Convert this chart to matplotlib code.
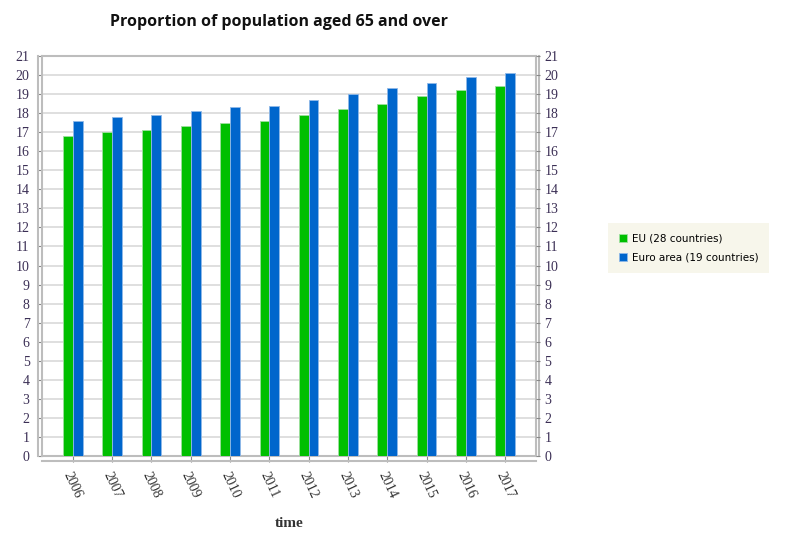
import numpy as np
import matplotlib.pyplot as plt

years = ['2006', '2007', '2008', '2009', '2010', '2011',
         '2012', '2013', '2014', '2015', '2016', '2017']
eu28 = [16.8, 17.0, 17.1, 17.3, 17.5, 17.6, 17.9, 18.2, 18.5, 18.9, 19.2, 19.4]
ea19 = [17.6, 17.8, 17.9, 18.1, 18.3, 18.4, 18.7, 19.0, 19.3, 19.6, 19.9, 20.1]
yticks = list(range(0, 22))

tick_color = '#3b2f55'
frame_color = '#bdbdbd'

fig = plt.figure(figsize=(7.96, 5.37), dpi=100)
ax = fig.add_axes([42 / 796, 1 - 456 / 537, 494 / 796, 400 / 537])

x = np.arange(len(years))
w = 0.25
ax.bar(x - w / 2, eu28, width=w, color='#00bf00', edgecolor='#9fe09f', linewidth=0.6,
       label='EU (28 countries)', zorder=3)
ax.bar(x + w / 2, ea19, width=w, color='#0066cc', edgecolor='#8fb8e8', linewidth=0.6,
       label='Euro area (19 countries)', zorder=3)

ax.set_xlim(-0.78, len(years) - 1 + 0.78)
ax.set_ylim(0, 21)
ax.set_yticks(yticks)
ax.grid(axis='y', color='#d9d9d9', linewidth=1.2, zorder=0)

# grey frame around the plot area
for s in ax.spines.values():
    s.set_color(frame_color)
    s.set_linewidth(1.5)

# offset axis lines, left/right/bottom
ax.plot([0, 1], [-4.5 / 400, -4.5 / 400], transform=ax.transAxes,
        color=frame_color, lw=1.5, clip_on=False)
ax.plot([-4 / 494, -4 / 494], [0, 1], transform=ax.transAxes,
        color=frame_color, lw=1.5, clip_on=False)
ax.plot([1 + 3 / 494, 1 + 3 / 494], [0, 1], transform=ax.transAxes,
        color=frame_color, lw=1.5, clip_on=False)

ax.set_xticks(x)
ax.set_xticklabels(years, rotation=-65, ha='center', va='top',
                   family='Liberation Serif', fontsize=10, color='#333333')
ax.tick_params(axis='x', length=4, pad=6, color='#888888', direction='out')
ax.tick_params(axis='y', length=3, pad=6, color='#888888',
               labelcolor=tick_color, labelsize=10)
for lab in ax.get_yticklabels():
    lab.set_family('Liberation Serif')

ax2 = ax.twinx()
ax2.set_ylim(0, 21)
ax2.set_yticks(yticks)
ax2.tick_params(axis='y', length=3, pad=3, color='#888888',
                labelcolor=tick_color, labelsize=10)
for lab in ax2.get_yticklabels():
    lab.set_family('Liberation Serif')
for s in ax2.spines.values():
    s.set_visible(False)

ax.set_xlabel('time', family='Liberation Serif', fontweight='bold', fontsize=11,
              color='#333333', labelpad=12)

fig.text(279 / 796, 1 - 22 / 537, 'Proportion of population aged 65 and over',
         ha='center', va='center', fontsize=11.5, fontweight='bold',
         family='Open Sans', color='#111111')

h, l = ax.get_legend_handles_labels()
leg = fig.legend(h, l, loc='center left', bbox_to_anchor=(603 / 796, 1 - 248 / 537),
                 frameon=True, fancybox=False, handlelength=0.8,
                 handleheight=0.8, handletextpad=0.5, borderpad=1.0,
                 labelspacing=0.9, prop={'family': 'DejaVu Sans', 'size': 7.5})
leg.get_frame().set_facecolor('#f6f4e7')
leg.get_frame().set_edgecolor('#f6f4e7')
leg.get_frame().set_linewidth(0)

fig.savefig('out.png', dpi=100)
